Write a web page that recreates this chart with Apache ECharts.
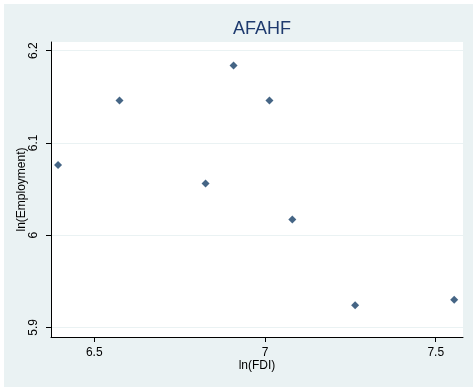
<!DOCTYPE html>
<html>
<head>
<meta charset="utf-8">
<script src="https://cdn.jsdelivr.net/npm/echarts@6/dist/echarts.min.js"></script>
<style>
html,body{margin:0;padding:0;background:#ffffff;}
#wrap{position:absolute;left:4px;top:4px;width:469px;height:383px;background:#eaf2f3;}
#chart{position:absolute;left:0;top:0;width:473px;height:390px;}
</style>
</head>
<body>
<div id="wrap"></div>
<div id="chart"></div>
<script>
const title = "AFAHF";
const xName = "ln(FDI)";
const yName = "ln(Employment)";
const lnFDI = [6.394, 6.574, 6.908, 7.013, 6.826, 7.080, 7.264, 7.554];
const lnEmployment = [6.076, 6.146, 6.184, 6.146, 6.056, 6.017, 5.924, 5.930];
const xTicks = [6.5, 7, 7.5];
const yTicks = [5.9, 6, 6.1, 6.2];

const points = lnFDI.map((x, i) => [x, lnEmployment[i]]);
const font = "Liberation Sans, Arial, sans-serif";

const chart = echarts.init(document.getElementById('chart'), null, {renderer: 'canvas'});
chart.setOption({
  backgroundColor: 'transparent',
  animation: false,
  title: {
    text: title, left: 257, top: 15, textAlign: 'center',
    textStyle: {color: '#1e3a6e', fontSize: 18, fontWeight: 'normal', fontFamily: font}
  },
  grid: {left: 51, top: 42, width: 412, height: 295, backgroundColor: '#ffffff', show: true, borderWidth: 0},
  xAxis: {
    type: 'value', min: 6.3734, max: 7.5798,
    name: xName, nameLocation: 'middle', nameGap: 23, nameMoveOverlap: false,
    nameTextStyle: {color: '#000', fontSize: 12, fontFamily: font},
    axisLine: {show: true, onZero: false, lineStyle: {color: '#000', width: 1}},
    axisTick: {show: true, length: 5, customValues: xTicks, lineStyle: {color: '#000'}},
    axisLabel: {customValues: xTicks, color: '#000', fontSize: 12, fontFamily: font, margin: 10,
      formatter: v => String(v)},
    splitLine: {show: false}
  },
  yAxis: {
    type: 'value', min: 5.8896, max: 6.2094,
    name: yName, nameLocation: 'middle', nameGap: 23, nameRotate: 90, nameMoveOverlap: false,
    nameTextStyle: {color: '#000', fontSize: 12, fontFamily: font},
    axisLine: {show: true, onZero: false, lineStyle: {color: '#000', width: 1}},
    axisTick: {show: true, length: 5, customValues: yTicks, lineStyle: {color: '#000'}},
    axisLabel: {customValues: yTicks, rotate: 90, color: '#000', fontSize: 12, fontFamily: font, margin: 11,
      formatter: v => String(v)},
    splitLine: {show: true, lineStyle: {color: '#eaf2f3', width: 1}}
  },
  series: [{
    type: 'scatter',
    data: points,
    symbol: 'diamond',
    symbolSize: 8,
    itemStyle: {color: '#163f66'}
  }]
});
</script>
</body>
</html>
